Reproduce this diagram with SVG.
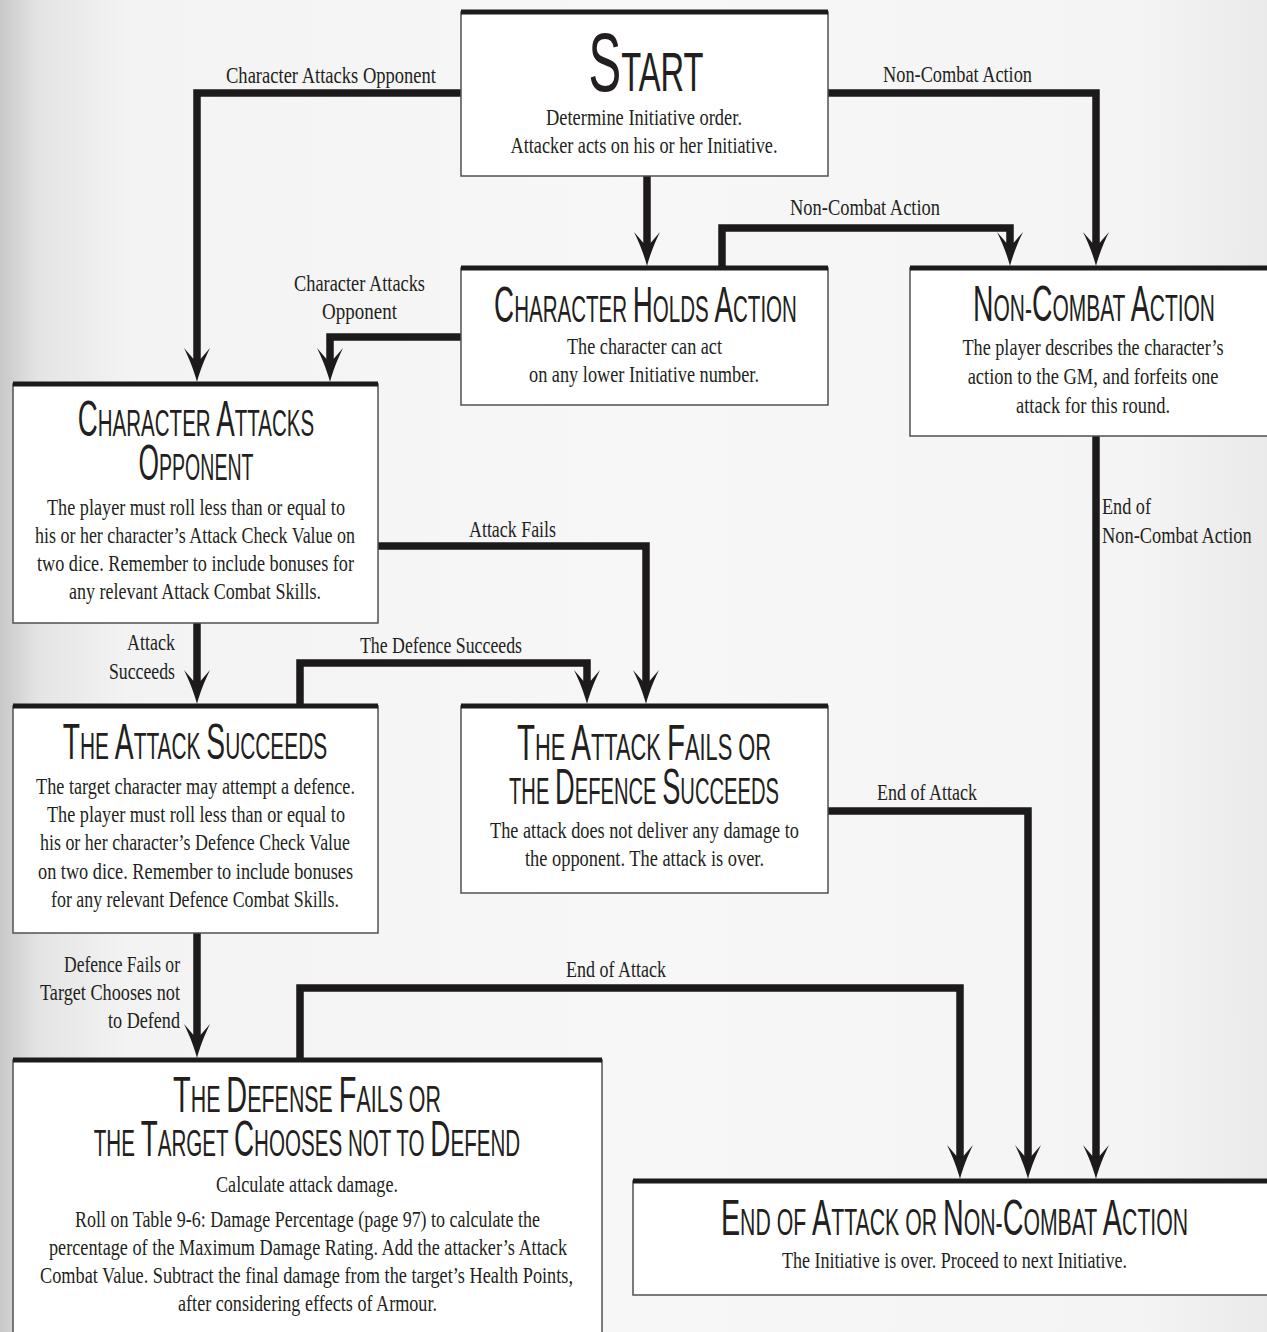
<svg xmlns="http://www.w3.org/2000/svg" width="1267" height="1332" viewBox="0 0 1267 1332">
<style>
.bx{fill:#ffffff;stroke:#505050;stroke-width:1.5}
.tp{stroke:#1c1a1b;stroke-width:5}
.cn{fill:none;stroke:#1c1a1b;stroke-width:7.5;stroke-linejoin:miter;stroke-linecap:butt;marker-end:url(#ah)}
text{fill:#231f20}
.t{font-family:"Liberation Sans",Arial,sans-serif;text-anchor:middle}
.B{font-size:50px}
.S{font-size:37px}
.B0{font-size:84px}
.S0{font-size:56px}
.b{font-family:"Liberation Serif","Times New Roman",serif;font-size:23.5px;text-anchor:middle}
.l{font-family:"Liberation Serif","Times New Roman",serif;font-size:23px;text-anchor:middle}
.le{text-anchor:end}
.ls{text-anchor:start}
</style>
<defs>
<linearGradient id="bg" x1="0" y1="0" x2="1" y2="0">
<stop offset="0" stop-color="#c8c8c8"/>
<stop offset="0.03" stop-color="#e4e4e4"/>
<stop offset="0.1" stop-color="#f3f3f3"/>
<stop offset="0.5" stop-color="#f7f7f7"/>
<stop offset="0.9" stop-color="#f4f4f4"/>
<stop offset="1" stop-color="#eaeaea"/>
</linearGradient>
<marker id="ah" markerUnits="userSpaceOnUse" markerWidth="40" markerHeight="30" refX="14" refY="13" orient="auto" overflow="visible">
<path d="M34,13 C24,10.5 10,5 0,0 L11,9.5 L11,16.5 L0,26 C10,21 24,15.5 34,13 Z" fill="#1c1a1b"/>
</marker>
</defs>
<rect x="0" y="0" width="1267" height="1332" fill="url(#bg)"/>

<g id="connectors">
<path class="cn" d="M461,93 H197 V362"/>
<path class="cn" d="M828,93 H1096 V246"/>
<path class="cn" d="M647,176 V246"/>
<path class="cn" d="M722,268 V228 H1010 V246"/>
<path class="cn" d="M461,337 H330 V362"/>
<path class="cn" d="M378,546 H646 V684"/>
<path class="cn" d="M197,623 V684"/>
<path class="cn" d="M300,706 V663 H587 V684"/>
<path class="cn" d="M828,811 H1028 V1159"/>
<path class="cn" d="M1096,436 V1159"/>
<path class="cn" d="M197,933 V1038"/>
<path class="cn" d="M300,1060 V988 H960 V1159"/>
<text class="l" x="331" y="83" textLength="210" lengthAdjust="spacingAndGlyphs">Character Attacks Opponent</text>
<text class="l" x="957.5" y="82" textLength="149" lengthAdjust="spacingAndGlyphs">Non-Combat Action</text>
<text class="l" x="865" y="215" textLength="150" lengthAdjust="spacingAndGlyphs">Non-Combat Action</text>
<text class="l" x="359.5" y="291" textLength="131" lengthAdjust="spacingAndGlyphs">Character Attacks</text>
<text class="l" x="359.5" y="319" textLength="75" lengthAdjust="spacingAndGlyphs">Opponent</text>
<text class="l" x="512.5" y="537" textLength="87" lengthAdjust="spacingAndGlyphs">Attack Fails</text>
<text class="l le" x="175" y="650" textLength="48" lengthAdjust="spacingAndGlyphs">Attack</text>
<text class="l le" x="175" y="679" textLength="66" lengthAdjust="spacingAndGlyphs">Succeeds</text>
<text class="l" x="441" y="653" textLength="162" lengthAdjust="spacingAndGlyphs">The Defence Succeeds</text>
<text class="l" x="927" y="800" textLength="100" lengthAdjust="spacingAndGlyphs">End of Attack</text>
<text class="l ls" x="1102" y="514" textLength="49" lengthAdjust="spacingAndGlyphs">End of</text>
<text class="l ls" transform="translate(1102,543) scale(0.80,1)">Non-Combat Action</text>
<text class="l le" x="180" y="972" textLength="116" lengthAdjust="spacingAndGlyphs">Defence Fails or</text>
<text class="l le" x="180" y="1000" textLength="140" lengthAdjust="spacingAndGlyphs">Target Chooses not</text>
<text class="l le" x="180" y="1028" textLength="72" lengthAdjust="spacingAndGlyphs">to Defend</text>
<text class="l" x="616" y="977" textLength="100" lengthAdjust="spacingAndGlyphs">End of Attack</text>
</g>

<g id="start">
<rect class="bx" x="461" y="12" width="367" height="164"/>
<line class="tp" x1="461" y1="12" x2="828" y2="12"/>
<text class="t" transform="translate(646,91) scale(0.5836,1)"><tspan class="B0">S</tspan><tspan class="S0">TART</tspan></text>
<text class="b" x="644" y="125" textLength="196" lengthAdjust="spacingAndGlyphs">Determine Initiative order.</text>
<text class="b" x="644" y="153" textLength="267" lengthAdjust="spacingAndGlyphs">Attacker acts on his or her Initiative.</text>
</g>

<g id="holds">
<rect class="bx" x="461" y="268" width="367" height="137"/>
<line class="tp" x1="461" y1="268" x2="828" y2="268"/>
<text class="t" transform="translate(645.5,322) scale(0.5555,1)"><tspan class="B">C</tspan><tspan class="S">HARACTER </tspan><tspan class="B">H</tspan><tspan class="S">OLDS </tspan><tspan class="B">A</tspan><tspan class="S">CTION</tspan></text>
<text class="b" x="644.5" y="354" textLength="155" lengthAdjust="spacingAndGlyphs">The character can act</text>
<text class="b" x="644" y="382" textLength="230" lengthAdjust="spacingAndGlyphs">on any lower Initiative number.</text>
</g>

<g id="noncombat">
<rect class="bx" x="910" y="268" width="370" height="168"/>
<line class="tp" x1="910" y1="268" x2="1280" y2="268"/>
<text class="t" transform="translate(1094,321) scale(0.567,1)"><tspan class="B">N</tspan><tspan class="S">ON-</tspan><tspan class="B">C</tspan><tspan class="S">OMBAT </tspan><tspan class="B">A</tspan><tspan class="S">CTION</tspan></text>
<text class="b" transform="translate(1093,355) scale(0.774,1)">The player describes the character’s</text>
<text class="b" transform="translate(1093,384) scale(0.786,1)">action to the GM, and forfeits one</text>
<text class="b" x="1093" y="413" textLength="154" lengthAdjust="spacingAndGlyphs">attack for this round.</text>
</g>

<g id="charattacks">
<rect class="bx" x="13" y="384" width="365" height="239"/>
<line class="tp" x1="13" y1="384" x2="378" y2="384"/>
<text class="t" transform="translate(196,436) scale(0.5545,1)"><tspan class="B">C</tspan><tspan class="S">HARACTER </tspan><tspan class="B">A</tspan><tspan class="S">TTACKS</tspan></text>
<text class="t" transform="translate(196,480) scale(0.528,1)"><tspan class="B">O</tspan><tspan class="S">PPONENT</tspan></text>
<text class="b" x="196" y="515" textLength="298" lengthAdjust="spacingAndGlyphs">The player must roll less than or equal to</text>
<text class="b" x="195" y="543" textLength="320" lengthAdjust="spacingAndGlyphs">his or her character’s Attack Check Value on</text>
<text class="b" x="195.5" y="571" textLength="317" lengthAdjust="spacingAndGlyphs">two dice. Remember to include bonuses for</text>
<text class="b" x="195" y="599" textLength="252" lengthAdjust="spacingAndGlyphs">any relevant Attack Combat Skills.</text>
</g>

<g id="attacksucceeds">
<rect class="bx" x="13" y="706" width="365" height="227"/>
<line class="tp" x1="13" y1="706" x2="378" y2="706"/>
<text class="t" transform="translate(195,759) scale(0.5643,1)"><tspan class="B">T</tspan><tspan class="S">HE </tspan><tspan class="B">A</tspan><tspan class="S">TTACK </tspan><tspan class="B">S</tspan><tspan class="S">UCCEEDS</tspan></text>
<text class="b" x="195.5" y="794" textLength="319" lengthAdjust="spacingAndGlyphs">The target character may attempt a defence.</text>
<text class="b" x="196" y="822" textLength="298" lengthAdjust="spacingAndGlyphs">The player must roll less than or equal to</text>
<text class="b" x="195" y="850" textLength="310" lengthAdjust="spacingAndGlyphs">his or her character’s Defence Check Value</text>
<text class="b" x="195.5" y="879" textLength="315" lengthAdjust="spacingAndGlyphs">on two dice. Remember to include bonuses</text>
<text class="b" x="195" y="907" textLength="288" lengthAdjust="spacingAndGlyphs">for any relevant Defence Combat Skills.</text>
</g>

<g id="attackfails">
<rect class="bx" x="461" y="706" width="367" height="187"/>
<line class="tp" x1="461" y1="706" x2="828" y2="706"/>
<text class="t" transform="translate(644,760) scale(0.59,1)"><tspan class="B">T</tspan><tspan class="S">HE </tspan><tspan class="B">A</tspan><tspan class="S">TTACK </tspan><tspan class="B">F</tspan><tspan class="S">AILS OR</tspan></text>
<text class="t" transform="translate(644,804) scale(0.5455,1)"><tspan class="S">THE </tspan><tspan class="B">D</tspan><tspan class="S">EFENCE </tspan><tspan class="B">S</tspan><tspan class="S">UCCEEDS</tspan></text>
<text class="b" x="644.5" y="838" textLength="309" lengthAdjust="spacingAndGlyphs">The attack does not deliver any damage to</text>
<text class="b" x="644.5" y="866" textLength="239" lengthAdjust="spacingAndGlyphs">the opponent. The attack is over.</text>
</g>

<g id="defensefails">
<rect class="bx" x="13" y="1060" width="589" height="290"/>
<line class="tp" x1="13" y1="1060" x2="602" y2="1060"/>
<text class="t" transform="translate(307,1112) scale(0.5786,1)"><tspan class="B">T</tspan><tspan class="S">HE </tspan><tspan class="B">D</tspan><tspan class="S">EFENSE </tspan><tspan class="B">F</tspan><tspan class="S">AILS OR</tspan></text>
<text class="t" transform="translate(307,1156) scale(0.5567,1)"><tspan class="S">THE </tspan><tspan class="B">T</tspan><tspan class="S">ARGET </tspan><tspan class="B">C</tspan><tspan class="S">HOOSES NOT TO </tspan><tspan class="B">D</tspan><tspan class="S">EFEND</tspan></text>
<text class="b" x="307" y="1192" textLength="182" lengthAdjust="spacingAndGlyphs">Calculate attack damage.</text>
<text class="b" x="307.5" y="1227" textLength="465" lengthAdjust="spacingAndGlyphs">Roll on Table 9-6: Damage Percentage (page 97) to calculate the</text>
<text class="b" x="308" y="1255" textLength="518" lengthAdjust="spacingAndGlyphs">percentage of the Maximum Damage Rating. Add the attacker’s Attack</text>
<text class="b" x="306.5" y="1283" textLength="533" lengthAdjust="spacingAndGlyphs">Combat Value. Subtract the final damage from the target’s Health Points,</text>
<text class="b" x="307.5" y="1311" textLength="259" lengthAdjust="spacingAndGlyphs">after considering effects of Armour.</text>
</g>

<g id="end">
<rect class="bx" x="633" y="1181" width="650" height="114"/>
<line class="tp" x1="633" y1="1181" x2="1283" y2="1181"/>
<text class="t" transform="translate(954.5,1235) scale(0.5745,1)"><tspan class="B">E</tspan><tspan class="S">ND OF </tspan><tspan class="B">A</tspan><tspan class="S">TTACK OR </tspan><tspan class="B">N</tspan><tspan class="S">ON-</tspan><tspan class="B">C</tspan><tspan class="S">OMBAT </tspan><tspan class="B">A</tspan><tspan class="S">CTION</tspan></text>
<text class="b" x="954.5" y="1268" textLength="345" lengthAdjust="spacingAndGlyphs">The Initiative is over. Proceed to next Initiative.</text>
</g>
</svg>
